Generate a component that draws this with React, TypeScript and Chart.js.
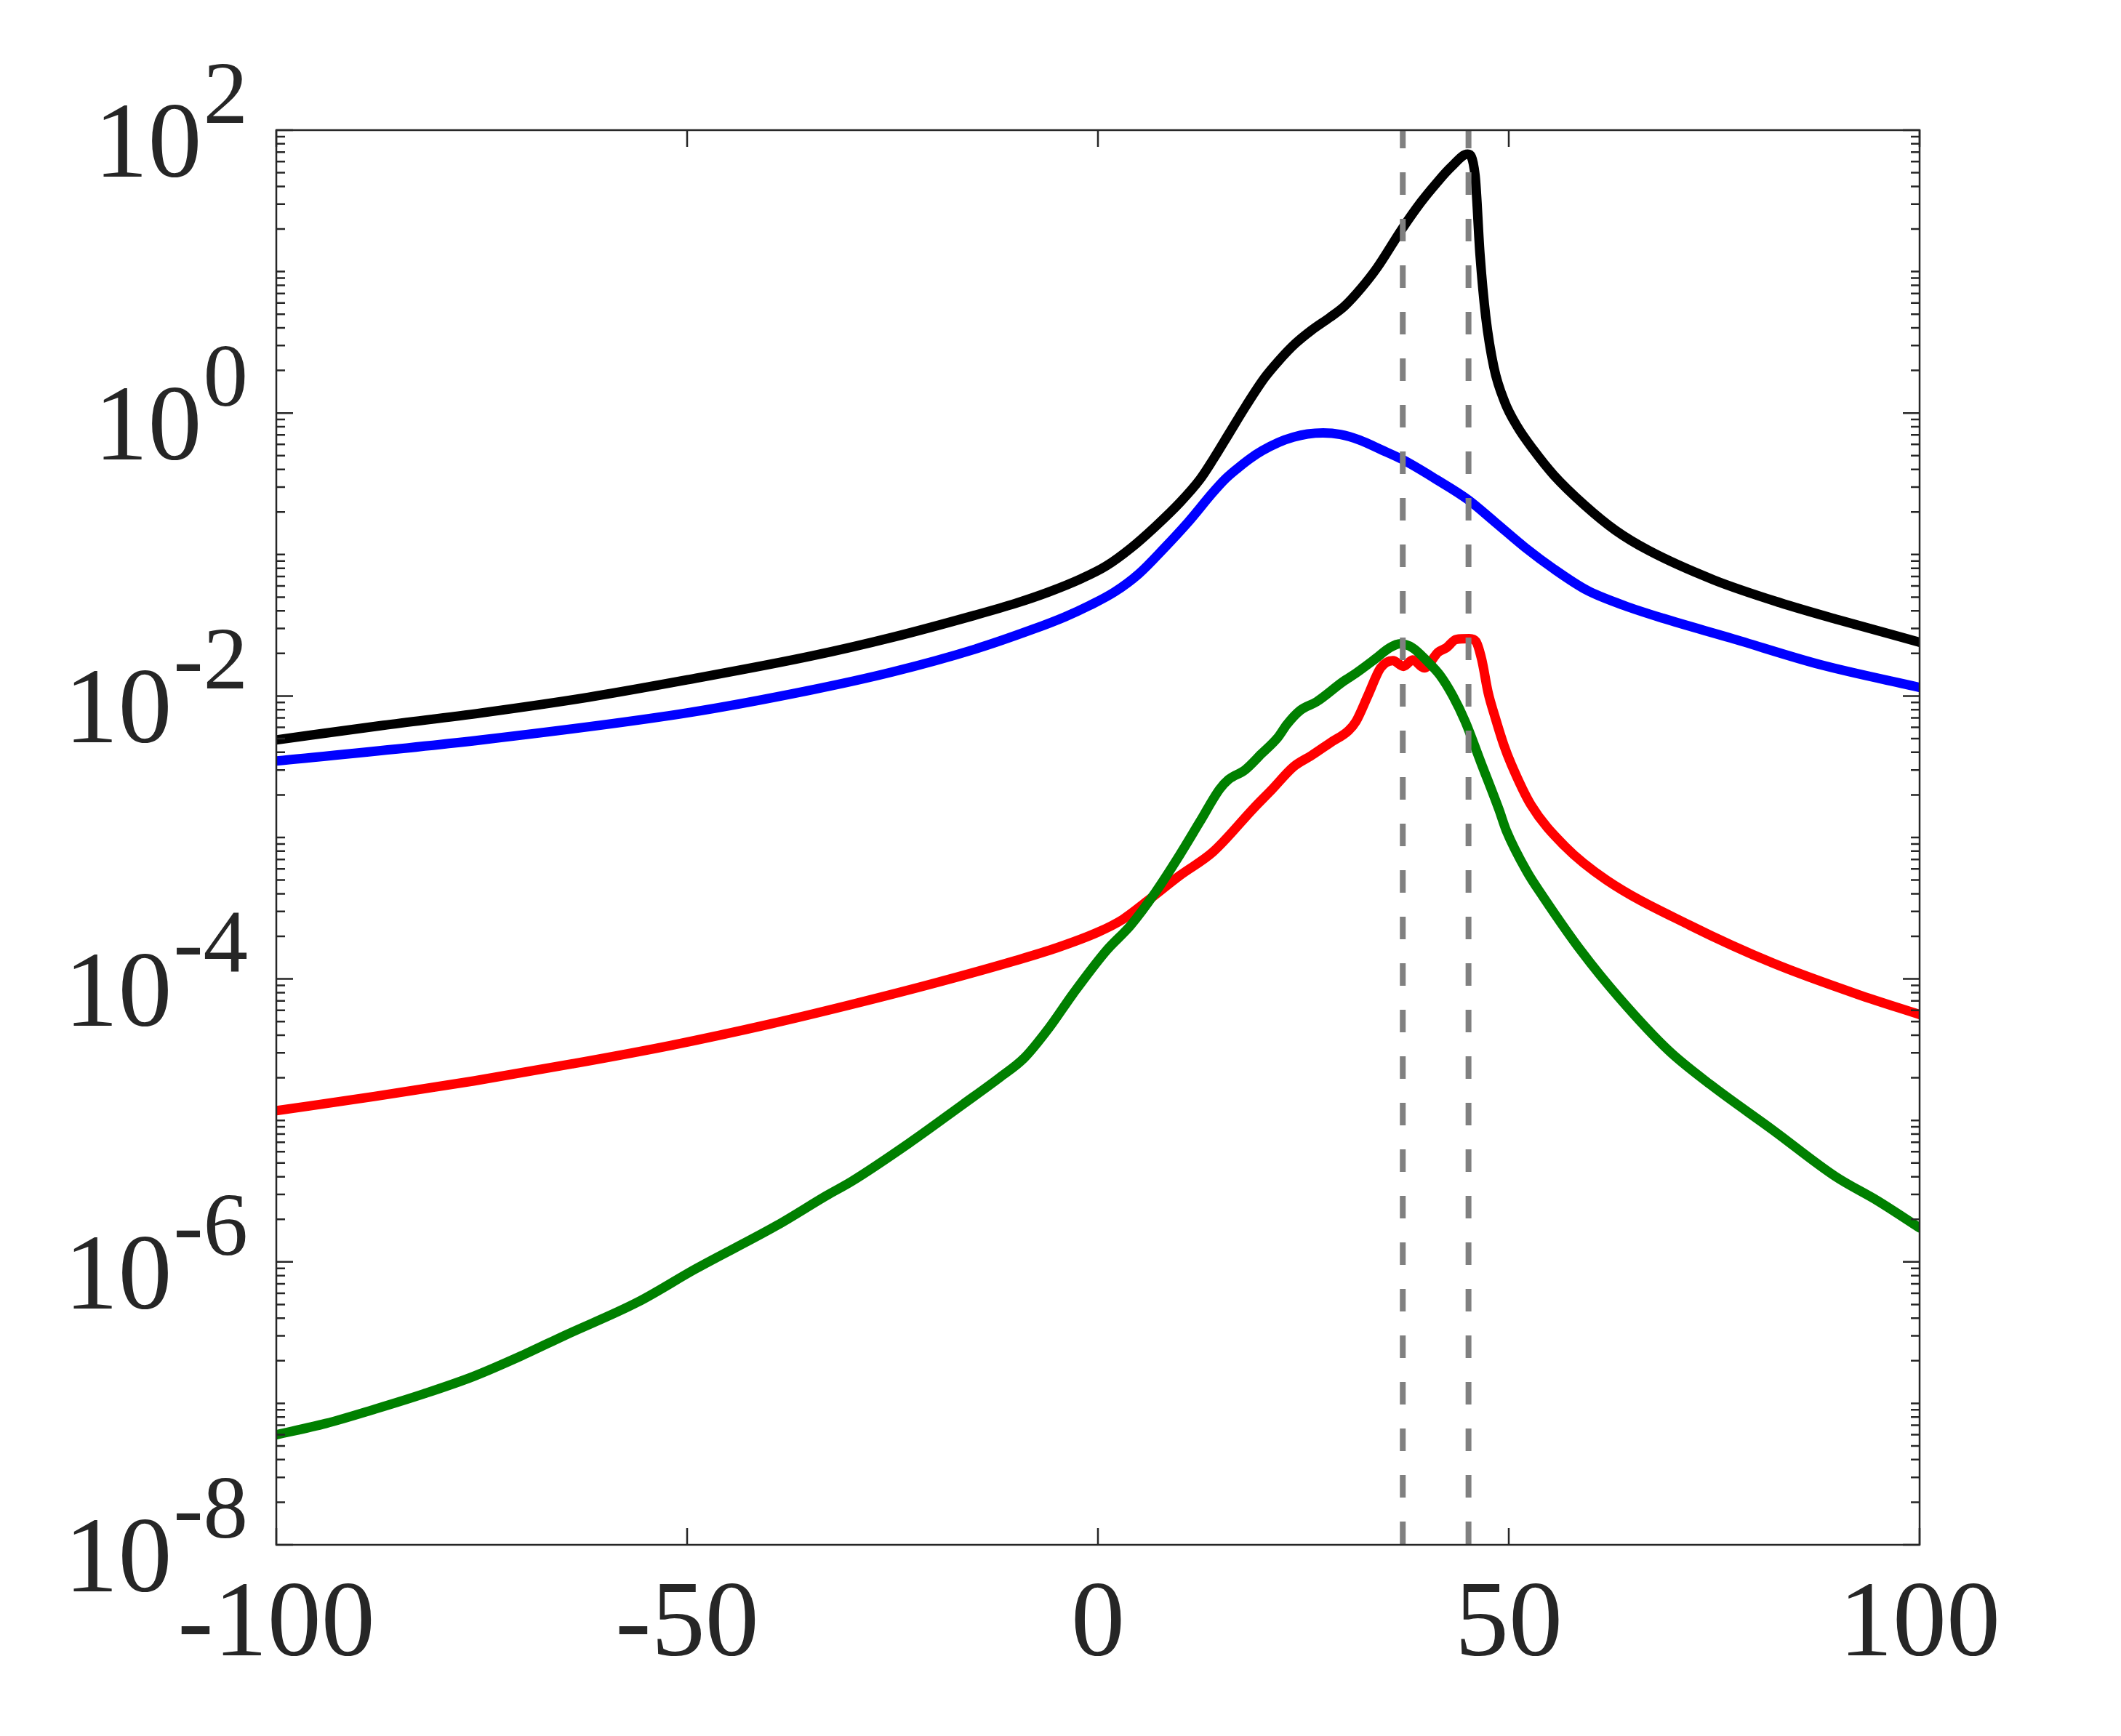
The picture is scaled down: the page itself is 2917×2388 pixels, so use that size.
import { useEffect, useRef } from 'react';
import { Chart, registerables } from 'chart.js';

Chart.register(...registerables);

const W = 2917;
const H = 2388;

// values (x, y pairs per curve)
const blackX = [-100, -87, -75, -62, -50, -35, -25, -15, -10, -6, -2, 1, 4, 7, 10, 12.4, 14, 16, 18, 20.3, 22, 24, 26, 28.2, 30, 32, 34, 37, 39.3, 41.2, 43, 45, 45.9, 46.5, 47.2, 48.2, 49.5, 51, 53, 55.5, 59.2, 63, 67, 75, 83, 90, 100];
const blackY = [4.9e-3, 6.2e-3, 7.6e-3, 9.8e-3, 1.3e-2, 1.91e-2, 2.6e-2, 3.72e-2, 4.52e-2, 5.43e-2, 6.76e-2, 8.3e-2, 0.111, 0.158, 0.234, 0.339, 0.468, 0.724, 1.12, 1.78, 2.34, 3.09, 3.85, 4.73, 5.69, 7.59, 10.7, 20.0, 30.9, 42.2, 55.0, 67.6, 47.9, 13.2, 4.79, 2.09, 1.2, 0.81, 0.55, 0.363, 0.224, 0.148, 0.107, 0.066, 0.0457, 0.0347, 0.024];

const blueX = [-100, -75, -50, -35, -25, -15, -8, -4, -1, 2, 5, 8, 11, 14, 15.5, 17, 18.5, 20, 22, 23.8, 25.5, 27.4, 29.5, 31.8, 34.5, 37.1, 41.2, 45, 48.3, 52, 55.5, 59.5, 64, 68.7, 77, 88, 100];
const blueY = [3.47e-3, 4.9e-3, 7.6e-3, 1.1e-2, 1.48e-2, 2.14e-2, 2.95e-2, 3.63e-2, 4.37e-2, 5.43e-2, 7.33e-2, 0.11, 0.17, 0.275, 0.342, 0.407, 0.476, 0.542, 0.621, 0.676, 0.711, 0.724, 0.706, 0.646, 0.55, 0.468, 0.339, 0.245, 0.17, 0.112, 0.079, 0.056, 0.0437, 0.0355, 0.0257, 0.0166, 0.0115];

const redX = [-100, -88, -76, -64, -52, -40, -30, -20, -10, -5, 0, 3, 6, 10, 14, 19, 21.2, 23.8, 26, 28.3, 30.5, 31.4, 32.9, 34.4, 35.9, 37.2, 38.3, 39.7, 41.4, 42.4, 43.6, 45.2, 46, 46.7, 47.5, 48.3, 49.4, 50.3, 52.7, 56.8, 61.9, 72, 82.2, 92.4, 100];
const redY = [1.17e-5, 1.48e-5, 1.9e-5, 2.51e-5, 3.39e-5, 4.79e-5, 6.6e-5, 9.3e-5, 1.35e-4, 1.66e-4, 2.14e-4, 2.63e-4, 3.55e-4, 5.4e-4, 7.9e-4, 1.62e-3, 2.19e-3, 3.16e-3, 3.8e-3, 4.68e-3, 5.7e-3, 6.6e-3, 1.02e-2, 1.58e-2, 1.78e-2, 1.62e-2, 1.8e-2, 1.58e-2, 2.04e-2, 2.19e-2, 2.51e-2, 2.54e-2, 2.43e-2, 1.82e-2, 1.05e-2, 7.2e-3, 4.5e-3, 3.3e-3, 1.7e-3, 8.7e-4, 5.0e-4, 2.4e-4, 1.29e-4, 7.8e-5, 5.6e-5];

const greenX = [-100, -94, -88, -82, -76, -70, -65, -56, -49, -39, -33, -30, -23, -16.5, -12, -9, -6, -3, 1, 4, 7, 10, 12.4, 14.8, 15.9, 17.9, 19.9, 21.9, 23, 24.6, 26.6, 29.8, 31.4, 33.7, 35.5, 36.8, 38.3, 40, 41.6, 43.2, 44.7, 46.6, 48.8, 49.7, 52.2, 54.2, 58.8, 63.4, 69.5, 74.6, 82.2, 89.8, 94.9, 100];
const greenY = [6.0e-8, 7.2e-8, 9.1e-8, 1.17e-7, 1.55e-7, 2.19e-7, 3.0e-7, 5.2e-7, 8.9e-7, 1.82e-6, 2.95e-6, 3.7e-6, 6.9e-6, 1.29e-5, 2.0e-5, 2.75e-5, 4.47e-5, 7.9e-5, 1.58e-4, 2.4e-4, 4.1e-4, 7.6e-4, 1.29e-3, 2.19e-3, 2.57e-3, 3.0e-3, 3.9e-3, 5.1e-3, 6.3e-3, 7.9e-3, 9.1e-3, 1.26e-2, 1.45e-2, 1.82e-2, 2.19e-2, 2.34e-2, 2.19e-2, 1.78e-2, 1.41e-2, 1.0e-2, 6.6e-3, 3.4e-3, 1.58e-3, 1.12e-3, 5.75e-4, 3.8e-4, 1.58e-4, 7.4e-5, 3.1e-5, 1.78e-5, 8.5e-6, 4.0e-6, 2.7e-6, 1.74e-6];

// vertical dashed markers
const markerX = [37.1, 45.1];

const xTicks = [-100, -50, 0, 50, 100];
const yExponents = [-8, -6, -4, -2, 0, 2];

const X_MIN = -100;
const X_MAX = 100;
const Y_MIN = 1e-8;
const Y_MAX = 1e2;

const AXIS_COLOR = '#262626';
const FONT = '"Liberation Serif", "DejaVu Serif", serif';

const pts = (xs: number[], ys: number[]) => xs.map((x, i) => ({ x, y: ys[i] }));

const curve = (label: string, xs: number[], ys: number[], color: string, order: number) => ({
  label,
  data: pts(xs, ys),
  borderColor: color,
  backgroundColor: color,
  borderWidth: 13,
  pointRadius: 0,
  fill: false,
  cubicInterpolationMode: 'monotone' as const,
  borderCapStyle: 'round' as const,
  borderJoinStyle: 'round' as const,
  clip: 0,
  order,
});

// box, inward ticks and tick labels in MATLAB style
const axesPlugin = {
  id: 'matlabAxes',
  afterDraw(chart: any) {
    const { ctx, chartArea: a, scales } = chart;
    const xs = scales.x;
    const ys = scales.y;
    ctx.save();
    ctx.strokeStyle = AXIS_COLOR;
    ctx.lineWidth = 2.5;
    ctx.beginPath();
    for (const t of xTicks) {
      const px = xs.getPixelForValue(t);
      ctx.moveTo(px, a.bottom);
      ctx.lineTo(px, a.bottom - 23);
      ctx.moveTo(px, a.top);
      ctx.lineTo(px, a.top + 23);
    }
    for (let e = -8; e <= 2; e++) {
      for (let m = 1; m <= 9; m++) {
        if (e === 2 && m > 1) break;
        const py = ys.getPixelForValue(m * Math.pow(10, e));
        const len = m === 1 && yExponents.includes(e) ? 23 : 12;
        ctx.moveTo(a.left, py);
        ctx.lineTo(a.left + len, py);
        ctx.moveTo(a.right, py);
        ctx.lineTo(a.right - len, py);
      }
    }
    ctx.stroke();
    ctx.strokeRect(a.left, a.top, a.right - a.left, a.bottom - a.top);

    ctx.fillStyle = AXIS_COLOR;
    ctx.textBaseline = 'alphabetic';
    ctx.font = `148px ${FONT}`;
    ctx.textAlign = 'center';
    for (const t of xTicks) {
      ctx.fillText(String(t), xs.getPixelForValue(t), a.bottom + 152);
    }

    ctx.textAlign = 'left';
    for (const e of yExponents) {
      const py = ys.getPixelForValue(Math.pow(10, e));
      ctx.font = `123px ${FONT}`;
      const ew = ctx.measureText(String(e)).width;
      ctx.font = `148px ${FONT}`;
      const bw = ctx.measureText('10').width;
      const right = 341;
      const x0 = right - ew - bw - 2;
      ctx.fillText('10', x0, py + 64);
      ctx.font = `123px ${FONT}`;
      ctx.fillText(String(e), x0 + bw + 2, py - 10);
    }
    ctx.restore();
  },
};

export default function App() {
  const canvasRef = useRef<HTMLCanvasElement>(null);
  const chartRef = useRef<Chart | null>(null);

  useEffect(() => {
    if (!canvasRef.current) return;
    if (chartRef.current) chartRef.current.destroy();

    const markers = markerX.map((x) => ({
      label: `x=${x}`,
      data: [
        { x, y: Y_MAX },
        { x, y: Y_MIN },
      ],
      borderColor: '#808080',
      borderWidth: 8,
      borderDash: [31, 33],
      borderDashOffset: 6,
      pointRadius: 0,
      fill: false,
      tension: 0,
      clip: 0,
      order: 0,
    }));

    chartRef.current = new Chart(canvasRef.current, {
      type: 'line',
      data: {
        datasets: [
          curve('black', blackX, blackY, '#000000', 4),
          curve('blue', blueX, blueY, '#0000ff', 3),
          curve('red', redX, redY, '#ff0000', 2),
          curve('green', greenX, greenY, '#008000', 1),
          ...markers,
        ] as any,
      },
      options: {
        animation: false,
        responsive: false,
        devicePixelRatio: 1,
        events: [],
        layout: {
          padding: { left: 380, right: 277, top: 179, bottom: 263 },
        },
        plugins: {
          legend: { display: false },
          tooltip: { enabled: false },
        },
        scales: {
          x: { type: 'linear', min: X_MIN, max: X_MAX, display: false },
          y: { type: 'logarithmic', min: Y_MIN, max: Y_MAX, display: false },
        },
      },
      plugins: [axesPlugin],
    });

    return () => {
      if (chartRef.current) {
        chartRef.current.destroy();
        chartRef.current = null;
      }
    };
  }, []);

  return (
    <div style={{ position: 'fixed', left: 0, top: 0, width: W, height: H, background: '#ffffff' }}>
      <canvas ref={canvasRef} width={W} height={H} style={{ width: W, height: H, display: 'block' }}></canvas>
    </div>
  );
}
